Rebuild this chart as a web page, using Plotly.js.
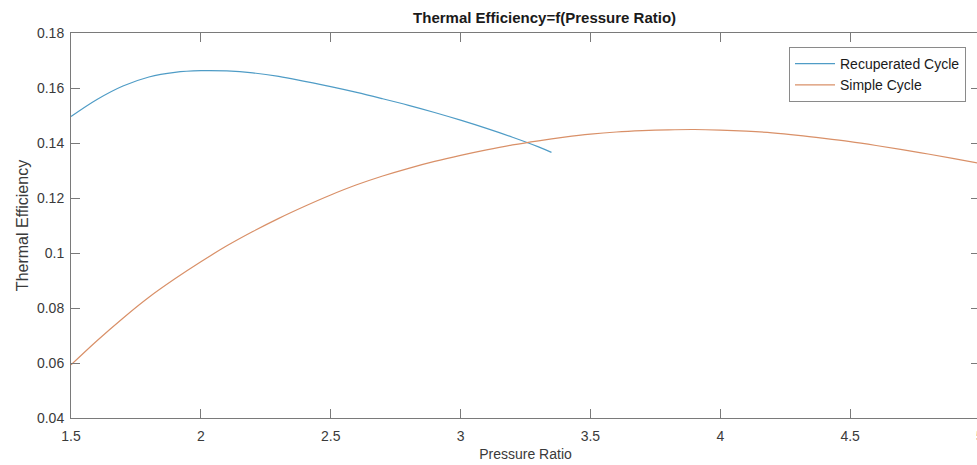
<!DOCTYPE html>
<html>
<head>
<meta charset="utf-8">
<script src="https://cdn.plot.ly/plotly-3.0.1.min.js"></script>
<style>
html,body{margin:0;padding:0;overflow:hidden;background:#fff;}
#chart{width:990px;height:465px;}
</style>
</head>
<body>
<div id="chart"></div>
<script>
var recupX = [1.5,1.6,1.7,1.8,1.9,2.0,2.1,2.2,2.3,2.4,2.5,2.6,2.7,2.8,2.9,3.0,3.1,3.2,3.3,3.35];
var recupY = [0.1496,0.1558,0.1607,0.1640,0.1657,0.1663,0.1662,0.1655,0.1642,0.1624,0.1605,0.1584,0.1561,0.1537,0.1511,0.1483,0.1453,0.1421,0.1386,0.1366];
var simpleX = [1.5,1.6,1.7,1.8,1.9,2.0,2.1,2.2,2.3,2.4,2.5,2.6,2.7,2.8,2.9,3.0,3.1,3.2,3.3,3.4,3.5,3.6,3.7,3.8,3.9,4.0,4.1,4.2,4.3,4.4,4.5,4.6,4.7,4.8,4.9,5.0];
var simpleY = [0.0593,0.0681,0.0763,0.0839,0.0906,0.0968,0.1026,0.1078,0.1126,0.1170,0.1211,0.1248,0.1280,0.1308,0.1333,0.1355,0.1375,0.1393,0.1408,0.1421,0.1432,0.1440,0.1445,0.1448,0.1449,0.1447,0.1443,0.1437,0.1428,0.1417,0.1405,0.1391,0.1376,0.1360,0.1343,0.1326];
var xTicks = [1.5,2,2.5,3,3.5,4,4.5,5];
var xTickText = ['1.5','2','2.5','3','3.5','4','4.5','5'];
var yTicks = [0.04,0.06,0.08,0.1,0.12,0.14,0.16,0.18];
var yTickText = ['0.04','0.06','0.08','0.1','0.12','0.14','0.16','0.18'];

var font = 'Liberation Sans, Arial, sans-serif';
var traces = [
  {x: recupX, y: recupY, name: 'Recuperated Cycle', mode: 'lines', line: {color: '#4f9cc6', width: 1.2, shape: 'spline'}},
  {x: simpleX, y: simpleY, name: 'Simple Cycle', mode: 'lines', line: {color: '#d99068', width: 1.2, shape: 'spline'}}
];
var axisCommon = {
  showgrid: false, zeroline: false, showline: true, linecolor: '#7a7a7a', linewidth: 1,
  mirror: 'ticks', ticks: 'inside', ticklen: 9, tickcolor: '#7a7a7a', tickwidth: 1,
  tickfont: {family: font, size: 14, color: '#3a3a3a'}
};
var layout = {
  width: 990, height: 465,
  margin: {l: 71, r: 10, t: 33, b: 47},
  paper_bgcolor: '#fff', plot_bgcolor: '#fff',
  showlegend: true,
  title: {text: '<b>Thermal Efficiency=f(Pressure Ratio)</b>', font: {family: font, size: 15, color: '#1a1a1a'},
          x: 0.521, xref: 'paper', xanchor: 'center', y: 0.962, yref: 'container', yanchor: 'middle'},
  xaxis: Object.assign({}, axisCommon, {range: [1.5, 5], tickvals: xTicks, ticktext: xTickText,
          ticklabelstandoff: 5,
          title: {text: 'Pressure Ratio', font: {family: font, size: 14, color: '#3a3a3a'}, standoff: 6}}),
  yaxis: Object.assign({}, axisCommon, {range: [0.04, 0.18], tickvals: yTicks, ticktext: yTickText,
          ticklabelstandoff: 3,
          title: {text: 'Thermal Efficiency', font: {family: font, size: 16, color: '#3a3a3a'}, standoff: 4}}),
  legend: {x: 0.9846, y: 0.9636, xanchor: 'right', yanchor: 'top', bgcolor: '#fff',
           bordercolor: '#8a8a8a', borderwidth: 1, font: {family: font, size: 14, color: '#1a1a1a'},
           tracegroupgap: 0, itemwidth: 40}
};
Plotly.newPlot('chart', traces, layout, {displayModeBar: false, staticPlot: true});
</script>
</body>
</html>
